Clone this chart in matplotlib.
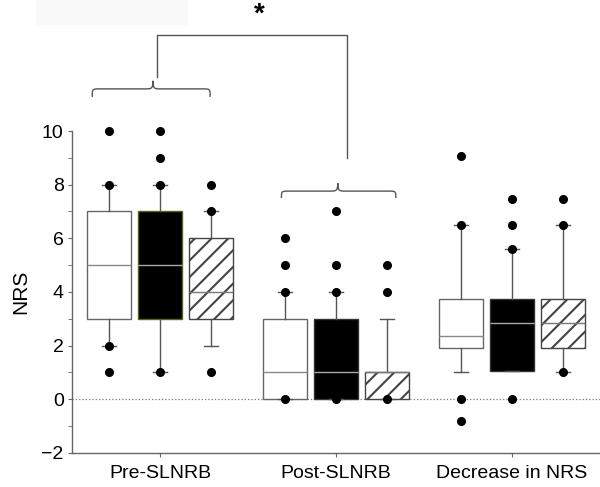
import numpy as np
import matplotlib.pyplot as plt
from matplotlib.path import Path
from matplotlib.patches import PathPatch, Rectangle

plt.rcParams['font.family'] = ['Liberation Sans', 'DejaVu Sans']
plt.rcParams['hatch.linewidth'] = 1.5

groups = ['Pre-SLNRB', 'Post-SLNRB', 'Decrease in NRS']

# open (white) boxes
q1_open = [3, 0, 1.9]
med_open = [5, 1, 2.35]
q3_open = [7, 3, 3.75]
lo_open = [2, 0, 1.0]
hi_open = [8, 4, 6.5]
fl_open = [[10, 8, 2, 1], [6, 5, 4, 0], [9.05, 6.5, 0, -0.8]]

# solid (black) boxes
q1_solid = [3, 0, 1.05]
med_solid = [5, 1, 2.85]
q3_solid = [7, 3, 3.75]
lo_solid = [1, 0, 1.05]
hi_solid = [8, 4, 5.6]
fl_solid = [[10, 9, 8, 1], [7, 5, 4, 0], [7.45, 6.5, 5.6, 0]]

# hatched boxes
q1_hatch = [3, 0, 1.9]
med_hatch = [4, 1, 2.85]
q3_hatch = [6, 1, 3.75]
lo_hatch = [2, 0, 1.0]
hi_hatch = [7, 3, 6.5]
fl_hatch = [[8, 7, 1], [5, 4, 0], [7.45, 6.5, 1.0]]


def make_stats(q1, med, q3, lo, hi, fl):
    out = []
    for i in range(len(q1)):
        out.append({'q1': q1[i], 'med': med[i], 'q3': q3[i],
                    'whislo': lo[i], 'whishi': hi[i], 'fliers': fl[i]})
    return out


def brace(ax, x0, x1, xt, ye, yf, yt, r=0.045):
    verts = [(x0, ye), (x0, yf), (x0, yf), (x0 + r, yf),
             (xt - r, yf),
             (xt - 0.2 * r, yf), (xt, yf), (xt, yt),
             (xt, yf), (xt + 0.2 * r, yf), (xt + r, yf),
             (x1 - r, yf),
             (x1, yf), (x1, yf), (x1, ye)]
    codes = [Path.MOVETO, Path.CURVE4, Path.CURVE4, Path.CURVE4,
             Path.LINETO,
             Path.CURVE4, Path.CURVE4, Path.CURVE4,
             Path.CURVE4, Path.CURVE4, Path.CURVE4,
             Path.LINETO,
             Path.CURVE4, Path.CURVE4, Path.CURVE4]
    ax.add_patch(PathPatch(Path(verts, codes), fill=False, ec='#555555',
                           lw=1.0, clip_on=False))


fig = plt.figure(figsize=(6, 4.87), dpi=100)
# faint grey block at the top left of the original image
fig.patches.append(Rectangle((0.06, 0.948), 0.253, 0.052, transform=fig.transFigure,
                             facecolor='#f9f9f9', edgecolor='none'))
ax = fig.add_axes([0.12, 0.07, 0.88, 0.661])

pos = np.arange(1, len(groups) + 1)
off = 0.29
wid = 0.255

series = [
    (make_stats(q1_open, med_open, q3_open, lo_open, hi_open, fl_open), -off,
     'white', '#666666', '', '#888888'),
    (make_stats(q1_solid, med_solid, q3_solid, lo_solid, hi_solid, fl_solid), 0,
     'black', '#333333', '', '#aaaaaa'),
    (make_stats(q1_hatch, med_hatch, q3_hatch, lo_hatch, hi_hatch, fl_hatch), off,
     'white', '#444444', '//', '#777777'),
]

parts = []
for stats, dx, fc, ec, hatch, mc in series:
    p = ax.bxp(stats, positions=pos + dx, widths=wid, patch_artist=True,
               capwidths=0.08,
               boxprops=dict(facecolor=fc, edgecolor=ec, linewidth=1.0, hatch=hatch),
               medianprops=dict(color=mc, linewidth=1.0),
               whiskerprops=dict(color='#555555', linewidth=1.0),
               capprops=dict(color='#555555', linewidth=1.0),
               flierprops=dict(marker='o', markerfacecolor='black',
                               markeredgecolor='black', markersize=5.5,
                               clip_on=False),
               manage_ticks=False)
    parts.append(p)

# the first solid box has an olive outline in the original
parts[1]['boxes'][0].set_edgecolor('#55651f')

ax.axhline(0, color='#777777', linestyle=':', linewidth=0.9, zorder=0)

ax.set_xlim(0.5, 3.5)
ax.set_ylim(-2, 10)
ax.set_xticks(pos)
ax.set_xticklabels(groups, fontsize=14)
ax.set_yticks(np.arange(-2, 11, 2))
ax.set_yticks(np.arange(-2, 11, 1), minor=True)
ax.tick_params(axis='y', labelsize=14, length=3, color='#666666', pad=3)
ax.tick_params(axis='y', which='minor', length=3, color='#666666')
ax.tick_params(axis='x', length=3, color='#666666', pad=6)
ax.set_ylabel('NRS', fontsize=15, labelpad=8)

for s in ['top', 'right']:
    ax.spines[s].set_visible(False)
for s in ['left', 'bottom']:
    ax.spines[s].set_color('#666666')
    ax.spines[s].set_linewidth(1.0)

# braces and significance bracket
brace(ax, 0.615, 1.285, 0.96, 11.27, 11.57, 11.87)
brace(ax, 1.69, 2.34, 2.01, 7.5, 7.76, 8.06)
ax.plot([0.985, 0.985, 2.06, 2.06], [12.0, 13.58, 13.58, 9.0],
        color='#555555', lw=1.0, clip_on=False)
ax.text(1.565, 14.35, '*', ha='center', va='center', fontsize=20,
        fontweight='bold')

fig.savefig('out.png', dpi=100)
